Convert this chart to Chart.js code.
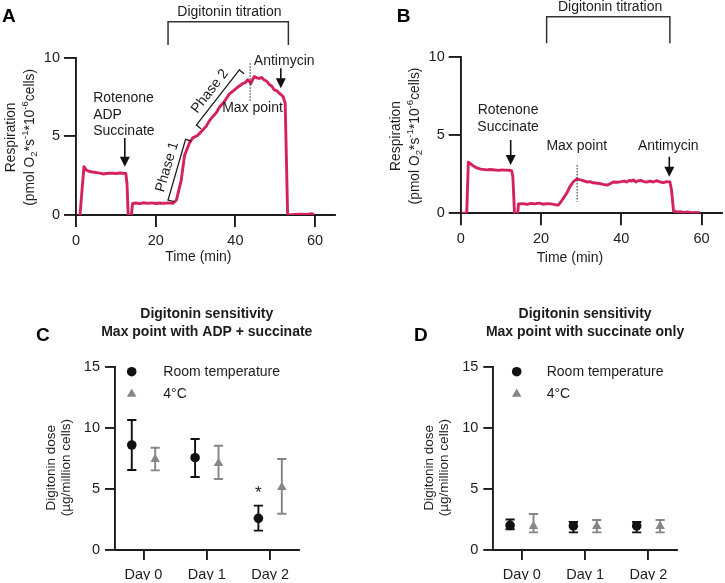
<!DOCTYPE html>
<html>
<head>
<meta charset="utf-8">
<title>Digitonin titration</title>
<script src="https://cdn.jsdelivr.net/npm/chart.js@4.4.1/dist/chart.umd.min.js"></script>
<style>
  body { margin: 0; background: #fff; }
  #wrap { position: relative; width: 725px; height: 583px; overflow: hidden; }
  canvas { position: absolute; }
</style>
</head>
<body>
<div id="wrap">
  <canvas id="panelA" width="362" height="290" style="left:0;top:0"></canvas>
  <canvas id="panelB" width="363" height="290" style="left:362px;top:0"></canvas>
  <canvas id="panelC" width="362" height="293" style="left:0;top:290px"></canvas>
  <canvas id="panelD" width="363" height="293" style="left:362px;top:290px"></canvas>
</div>
<script>
const FONT = "'Liberation Sans', Arial, sans-serif";
const INK = '#1c1c1c';
const TRACE = '#d5225f';
const GREY = '#868686';

// Oxygraph traces (time in min, respiration)
const timeA = [1.0, 2.0, 2.6, 3.2, 3.8, 4.5, 5.2, 6.0, 6.8, 7.6, 8.4, 9.3, 10.1, 10.9, 11.8,
  12.5, 12.8, 13.1, 13.9, 14.2, 15, 16, 17, 18, 19, 20, 21, 22, 23, 24.3, 25.2, 26.4, 27.25,
  28.5, 29.3, 30.5, 31.8, 32.7, 33.5, 34.3, 35.2, 36.0, 37.2, 38.5, 39.3, 40.2, 41.0, 41.8,
  42.5, 43.1, 43.5, 43.9, 44.4, 44.75, 45.4, 46.0, 46.6, 47.25, 47.9, 48.5, 49.1, 49.75, 50.4,
  51.0, 51.6, 52.0, 52.5, 53.1, 53.5, 55.0, 56.5, 58.0, 59.0, 59.75];
const respA = [0, 3.07, 2.86, 2.78, 2.75, 2.72, 2.69, 2.66, 2.61, 2.64, 2.66, 2.65, 2.63, 2.67, 2.65,
  2.64, 2.0, 0, 0, 0.74, 0.76, 0.72, 0.78, 0.74, 0.77, 0.73, 0.76, 0.74, 0.77, 0.74, 0.95, 2.2, 3.8,
  4.6, 4.9, 5.05, 5.4, 5.65, 6.0, 6.25, 6.5, 6.85, 7.2, 7.7, 7.85, 8.05, 8.2, 8.35,
  8.42, 8.6, 8.5, 8.35, 8.65, 8.8, 8.72, 8.68, 8.74, 8.58, 8.5, 8.3, 8.2, 7.95, 7.9,
  7.74, 7.62, 7.52, 7.1, 0.1, 0, 0.03, 0.05, 0.04, 0.08, 0.05];

const timeB = [0.3, 1.5, 1.9, 2.5, 3.0, 4, 5, 6.5, 7.3, 8, 9.5, 10.3, 11, 12, 12.7,
  13, 13.4, 14.2, 14.4, 15.5, 16.5, 17.5, 18.5, 19.5, 20.5, 21.5, 22.5, 23.5, 24.3, 25,
  25.8, 26.4, 27.2, 28, 28.9, 29.6, 30.3, 31.4, 32.2, 33, 34, 34.7, 35.5, 36.4, 37.2,
  38, 39, 40, 40.7, 41.3, 42, 42.6, 43, 43.6, 44.2, 45, 45.6, 46.3, 47.2, 48,
  48.7, 49.3, 50, 50.5, 51.3, 52.1, 52.5, 53, 53.8, 54.6, 55.5, 56.5, 57.5, 58.5, 59.6];
const respB = [0, 0, 3.26, 3.15, 3.05, 2.9, 2.82, 2.77, 2.8, 2.78, 2.74, 2.77, 2.76, 2.75, 2.72,
  2.3, 0, 0, 0.6, 0.62, 0.57, 0.63, 0.6, 0.65, 0.58, 0.62, 0.6, 0.55, 0.53, 0.75,
  1.05, 1.28, 1.7, 2.0, 2.19, 2.15, 2.1, 2.0, 2.02, 1.95, 1.92, 1.9, 1.85, 1.8, 1.88,
  2.0, 1.98, 2.02, 2.06, 2.0, 2.1, 2.06, 2.13, 2.0, 2.08, 2.1, 2.02, 2.0, 2.05, 2.0,
  2.08, 2.04, 1.98, 1.96, 2.02, 2.0, 1.5, 0.15, 0.08, 0.1, 0.05, 0.08, 0.04, 0.06, 0.02];

const timeTicks = [0, 20, 40, 60];
const respTicks = [0, 5, 10];

// Digitonin dose (mean, lower, upper)
const days = ['Day 0', 'Day 1', 'Day 2'];
const doseTicks = [0, 5, 10, 15];
const cRtMean = [8.62, 7.58, 2.6];
const cRtLow = [6.57, 5.99, 1.59];
const cRtHigh = [10.67, 9.11, 3.64];
const cColdMean = [7.45, 7.12, 5.15];
const cColdLow = [6.54, 5.83, 2.98];
const cColdHigh = [8.4, 8.56, 7.47];
const dRtMean = [2.02, 1.98, 1.98];
const dRtLow = [1.7, 1.45, 1.45];
const dRtHigh = [2.5, 2.3, 2.3];
const dColdMean = [1.95, 1.95, 1.95];
const dColdLow = [1.45, 1.45, 1.45];
const dColdHigh = [2.96, 2.46, 2.46];
const DODGE = 0.185;

Chart.defaults.font.family = FONT;
Chart.defaults.color = INK;

function font(size, bold) { return (bold ? 'bold ' : '') + size + 'px ' + FONT; }

function pairs(xs, ys) { return xs.map((x, i) => ({ x: x, y: ys[i] })); }

function label(ctx, str, x, y, size, align, bold) {
  ctx.save();
  ctx.font = font(size || 14, bold);
  ctx.fillStyle = INK;
  ctx.textAlign = align || 'center';
  ctx.textBaseline = 'middle';
  ctx.fillText(str, x, y);
  ctx.restore();
}

function letter(ctx, str, x, baseline) {
  ctx.save();
  ctx.font = font(19, true);
  ctx.fillStyle = '#000';
  ctx.textAlign = 'left';
  ctx.textBaseline = 'alphabetic';
  ctx.fillText(str, x, baseline);
  ctx.restore();
}

// vertical text made of pieces, shift -1 = subscript, 1 = superscript
function richVertical(ctx, parts, x, y, size) {
  ctx.save();
  ctx.translate(x, y);
  ctx.rotate(-Math.PI / 2);
  const small = size * 0.7;
  let w = 0;
  parts.forEach(p => { ctx.font = font(p[1] ? small : size); w += ctx.measureText(p[0]).width; });
  let cx = -w / 2;
  ctx.fillStyle = INK;
  ctx.textAlign = 'left';
  ctx.textBaseline = 'alphabetic';
  parts.forEach(p => {
    ctx.font = font(p[1] ? small : size);
    const dy = p[1] === 1 ? -size * 0.4 : p[1] === -1 ? size * 0.25 : 0;
    ctx.fillText(p[0], cx, size * 0.36 + dy);
    cx += ctx.measureText(p[0]).width;
  });
  ctx.restore();
}

function respTitle(ctx, a) {
  const cy = (a.top + a.bottom) / 2 + 1;
  richVertical(ctx, [['Respiration', 0]], a.left - 66, cy, 13.8);
  richVertical(ctx, [['(pmol O', 0], ['2', -1], ['*s', 0], ['-1', 1], ['*10', 0], ['-6', 1], ['cells)', 0]],
    a.left - 47, cy, 13.8);
}

function arrowDown(ctx, x, y1, y2) {
  ctx.save();
  ctx.strokeStyle = '#111';
  ctx.fillStyle = '#111';
  ctx.lineWidth = 1.6;
  ctx.beginPath(); ctx.moveTo(x, y1); ctx.lineTo(x, y2 - 8); ctx.stroke();
  ctx.beginPath(); ctx.moveTo(x - 5, y2 - 10); ctx.lineTo(x + 5, y2 - 10); ctx.lineTo(x, y2); ctx.closePath(); ctx.fill();
  ctx.restore();
}

function dotted(ctx, x, y1, y2) {
  ctx.save();
  ctx.strokeStyle = '#333';
  ctx.lineWidth = 1.1;
  ctx.setLineDash([1.5, 1.5]);
  ctx.beginPath(); ctx.moveTo(x, y1); ctx.lineTo(x, y2); ctx.stroke();
  ctx.restore();
}

function titration(ctx, x1, x2, yTop, yEnd, tx, ty) {
  ctx.save();
  ctx.strokeStyle = '#333';
  ctx.lineWidth = 1.5;
  ctx.beginPath();
  ctx.moveTo(x1, yEnd); ctx.lineTo(x1, yTop); ctx.lineTo(x2, yTop); ctx.lineTo(x2, yEnd);
  ctx.stroke();
  ctx.restore();
  label(ctx, 'Digitonin titration', tx, ty);
}

function phase(ctx, x1, y1, x2, y2, str) {
  const dx = x2 - x1, dy = y2 - y1, len = Math.hypot(dx, dy);
  const nx = -dy / len, ny = dx / len;
  ctx.save();
  ctx.strokeStyle = INK;
  ctx.lineWidth = 1.3;
  ctx.beginPath();
  ctx.moveTo(x1 + nx * 6, y1 + ny * 6); ctx.lineTo(x1, y1); ctx.lineTo(x2, y2); ctx.lineTo(x2 + nx * 6, y2 + ny * 6);
  ctx.stroke();
  ctx.translate((x1 + x2) / 2 - nx * 10, (y1 + y2) / 2 - ny * 10);
  ctx.rotate(Math.atan2(dy, dx));
  ctx.font = font(14);
  ctx.fillStyle = INK;
  ctx.textAlign = 'center';
  ctx.textBaseline = 'middle';
  ctx.fillText(str, 0, 0);
  ctx.restore();
}

function axis(o) {
  return {
    type: 'linear', min: o.min, max: o.max,
    afterBuildTicks: s => { s.ticks = o.ticks.map(v => ({ value: v })); },
    afterFit: s => { if (s.isHorizontal()) s.height = o.size; else s.width = o.size; },
    grid: { drawOnChartArea: false, drawTicks: true, tickLength: o.tick, color: INK, lineWidth: 1.9 },
    border: { display: true, color: INK, width: 1.9 },
    ticks: { color: INK, font: { size: 14.5, family: FONT }, padding: o.pad, autoSkip: false, maxRotation: 0,
      callback: o.cb || (v => String(v)) }
  };
}

function baseOptions(pad, xAxis, yAxis) {
  return {
    responsive: false, animation: false, devicePixelRatio: 1, events: [],
    layout: { padding: pad },
    plugins: { legend: { display: false }, tooltip: { enabled: false } },
    scales: { x: xAxis, y: yAxis }
  };
}

function traceChart(id, time, resp, pad, annot) {
  return new Chart(document.getElementById(id), {
    type: 'line',
    data: { datasets: [{ data: pairs(time, resp), borderColor: TRACE, borderWidth: 2.9, pointRadius: 0,
      tension: 0, fill: false, borderJoinStyle: 'round' }] },
    options: baseOptions(pad,
      axis({ min: 0, max: 65, ticks: timeTicks, size: 40, tick: 12, pad: 5 }),
      axis({ min: 0, max: 10, ticks: respTicks, size: 60, tick: 12, pad: 4 })),
    plugins: [annot]
  });
}

const annotA = {
  id: 'annotA',
  afterDraw(chart) {
    const ctx = chart.ctx, a = chart.chartArea;
    const X = v => chart.scales.x.getPixelForValue(v), Y = v => chart.scales.y.getPixelForValue(v);
    letter(ctx, 'A', 2, 21.7);
    respTitle(ctx, a);
    label(ctx, 'Time (min)', X(30.7), a.bottom + 41.7);
    titration(ctx, X(23.1), X(53.3), Y(12.29), Y(10.8), X(38.5), Y(12.87));
    label(ctx, 'Rotenone', X(4.3), Y(7.4), 14, 'left');
    label(ctx, 'ADP', X(4.3), Y(6.36), 14, 'left');
    label(ctx, 'Succinate', X(4.3), Y(5.3), 14, 'left');
    arrowDown(ctx, X(12.25), Y(4.9), Y(3.07));
    label(ctx, 'Antimycin', X(52.25), Y(9.79));
    arrowDown(ctx, X(51.4), Y(9.33), Y(8.05));
    dotted(ctx, X(43.7), Y(9.64), Y(7.2));
    label(ctx, 'Max point', X(44.3), Y(6.78));
    phase(ctx, X(23.1), Y(0.95), X(27.5), Y(4.81), 'Phase 1');
    phase(ctx, X(30.2), Y(5.72), X(41), Y(9.22), 'Phase 2');
  }
};

const annotB = {
  id: 'annotB',
  afterDraw(chart) {
    const ctx = chart.ctx, a = chart.chartArea;
    const X = v => chart.scales.x.getPixelForValue(v), Y = v => chart.scales.y.getPixelForValue(v);
    letter(ctx, 'B', 34.7, 21.7);
    respTitle(ctx, a);
    label(ctx, 'Time (min)', X(27.2), a.bottom + 45);
    titration(ctx, X(21.4), X(52.1), Y(12.55), Y(10.86), X(37.2), Y(13.17));
    label(ctx, 'Rotenone', X(11.8), Y(6.6));
    label(ctx, 'Succinate', X(11.8), Y(5.5));
    arrowDown(ctx, X(12.45), Y(4.68), Y(3.08));
    label(ctx, 'Max point', X(28.9), Y(4.32));
    dotted(ctx, X(29), Y(3.08), Y(0.74));
    label(ctx, 'Antimycin', X(51.7), Y(4.32));
    arrowDown(ctx, X(51.95), Y(3.61), Y(2.34));
  }
};

traceChart('panelA', timeA, respA, { left: 16, right: 27, top: 57.7, bottom: 35 }, annotA);
traceChart('panelB', timeB, respB, { left: 38.7, right: 3.3, top: 56.7, bottom: 36.7 }, annotB);

const errorBars = {
  id: 'errorBars',
  beforeDatasetsDraw(chart) {
    const ctx = chart.ctx, ys = chart.scales.y;
    chart.data.datasets.forEach((ds, di) => {
      const meta = chart.getDatasetMeta(di);
      ctx.save();
      ctx.strokeStyle = ds.borderColor;
      ctx.lineWidth = 1.9;
      meta.data.forEach((pt, i) => {
        const x = pt.x, yl = ys.getPixelForValue(ds.errLow[i]), yh = ys.getPixelForValue(ds.errHigh[i]);
        ctx.beginPath();
        ctx.moveTo(x, yl); ctx.lineTo(x, yh);
        ctx.moveTo(x - 4.6, yl); ctx.lineTo(x + 4.6, yl);
        ctx.moveTo(x - 4.6, yh); ctx.lineTo(x + 4.6, yh);
        ctx.stroke();
      });
      ctx.restore();
    });
  }
};

function doseChart(id, pad, rt, cold, opts) {
  const deco = {
    id: 'deco' + id,
    afterDraw(chart) {
      const ctx = chart.ctx, a = chart.chartArea;
      const X = v => chart.scales.x.getPixelForValue(v), Y = v => chart.scales.y.getPixelForValue(v);
      const cx = (a.left + a.right) / 2;
      letter(ctx, opts.letter, opts.letterX, 50.7);
      label(ctx, 'Digitonin sensitivity', cx, 24, 14, 'center', true);
      label(ctx, opts.title, cx, 41.7, 14, 'center', true);
      const cy = (a.top + a.bottom) / 2 + 9;
      richVertical(ctx, [['Digitonin dose', 0]], a.left - 65, cy, 13.5);
      richVertical(ctx, [['(\u00b5g/million cells)', 0]], a.left - 50, cy, 13.5);
      // legend
      const lx = a.left + opts.legendX;
      ctx.save();
      ctx.fillStyle = '#111';
      ctx.beginPath(); ctx.arc(lx, a.top + 4.4, 4.8, 0, Math.PI * 2); ctx.fill();
      ctx.fillStyle = GREY;
      const ty = a.top + 26.7, r = 5.5;
      ctx.beginPath();
      ctx.moveTo(lx, ty - r); ctx.lineTo(lx + r * 0.866, ty + r / 2); ctx.lineTo(lx - r * 0.866, ty + r / 2);
      ctx.closePath(); ctx.fill();
      ctx.restore();
      label(ctx, 'Room temperature', lx + opts.textGap, a.top + 4.4, 14, 'left');
      label(ctx, '4\u00b0C', lx + opts.textGap, a.top + 26.7, 14, 'left');
      if (opts.star !== undefined) {
        label(ctx, '*', X(opts.star - DODGE), Y(rt.high[opts.star]) - 12, 17);
      }
    }
  };
  return new Chart(document.getElementById(id), {
    type: 'scatter',
    data: {
      datasets: [
        { data: rt.mean.map((v, i) => ({ x: i - DODGE, y: v })), errLow: rt.low, errHigh: rt.high,
          pointStyle: 'circle', pointRadius: 4.8, backgroundColor: '#111', borderColor: '#111', borderWidth: 0 },
        { data: cold.mean.map((v, i) => ({ x: i + DODGE, y: v })), errLow: cold.low, errHigh: cold.high,
          pointStyle: 'triangle', pointRadius: 5.5, backgroundColor: GREY, borderColor: GREY, borderWidth: 0 }
      ]
    },
    options: baseOptions(pad,
      axis({ min: -0.45, max: 2.45, ticks: [0, 1, 2], size: 30, tick: 10, pad: 6, cb: v => days[v] }),
      axis({ min: 0, max: 15, ticks: doseTicks, size: 60, tick: 10, pad: 5 })),
    plugins: [errorBars, deco]
  });
}

doseChart('panelC', { left: 55, right: 63.4, top: 77.3, bottom: 3 },
  { mean: cRtMean, low: cRtLow, high: cRtHigh },
  { mean: cColdMean, low: cColdLow, high: cColdHigh },
  { letter: 'C', letterX: 36, title: 'Max point with ADP + succinate', legendX: 16.7, textGap: 31.6, star: 2 });

doseChart('panelD', { left: 71.3, right: 48.1, top: 77.3, bottom: 3 },
  { mean: dRtMean, low: dRtLow, high: dRtHigh },
  { mean: dColdMean, low: dColdLow, high: dColdHigh },
  { letter: 'D', letterX: 52, title: 'Max point with succinate only', legendX: 23.4, textGap: 30 });
</script>
</body>
</html>
